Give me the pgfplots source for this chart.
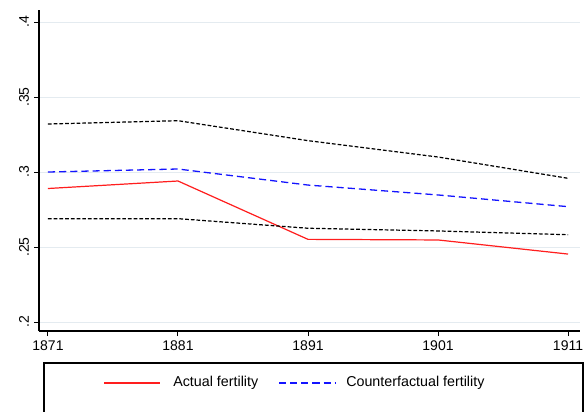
\documentclass[border=0pt]{standalone}
\usepackage{pgfplots}
\pgfplotsset{compat=1.18}
\usepackage{fontspec}
\setmainfont{Liberation Sans}
\definecolor{gridc}{RGB}{228,235,240}
\definecolor{cired}{RGB}{255,30,30}
\definecolor{cfblue}{RGB}{20,20,255}

\begin{document}
\begin{tikzpicture}
\begin{axis}[
    at={(0,0)}, anchor=south west,
    scale only axis,
    width=378.7pt, height=224.7pt,
    xmin=1870.31, xmax=1911.92,
    ymin=0.194, ymax=0.408,
    axis x line*=bottom, axis y line*=left,
    axis line style={line width=0.8pt, black},
    xtick={1871,1881,1891,1901,1911},
    xticklabels={1871,1881,1891,1901,1911},
    ytick={0.2,0.25,0.3,0.35,0.4},
    yticklabels={.2,.25,.3,.35,.4},
    yticklabel style={rotate=90, anchor=south, font=\fontsize{9.8}{11}\selectfont},
    xticklabel style={font=\fontsize{9.8}{11}\selectfont},
    tick align=outside,
    major tick length=3.5pt,
    tick style={line width=0.7pt, black},
    ymajorgrids,
    grid style={line width=0.7pt, gridc},
    clip=false,
]
\addplot[cired, line width=0.85pt] coordinates {
    (1871,0.289) (1881,0.294) (1891,0.2551) (1901,0.2547) (1911,0.2453)};
\addplot[cfblue, line width=0.9pt, dash pattern=on 5pt off 2.8pt] coordinates {
    (1871,0.300) (1881,0.302) (1891,0.2913) (1901,0.2847) (1911,0.2769)};
\addplot[black, line width=0.85pt, dash pattern=on 2.6pt off 1.4pt, forget plot] coordinates {
    (1871,0.332) (1881,0.3342) (1891,0.3209) (1901,0.310) (1911,0.2958)};
\addplot[black, line width=0.85pt, dash pattern=on 2.6pt off 1.4pt, forget plot] coordinates {
    (1871,0.2689) (1881,0.2689) (1891,0.2625) (1901,0.2607) (1911,0.2582)};
\end{axis}
% legend box (extends past the bottom edge of the picture)
\draw[line width=0.8pt] (3.5pt,-70pt) rectangle (380.8pt,-22.4pt);
\begin{scope}[font=\fontsize{10}{12}\selectfont]
\draw[cired, line width=0.9pt] (45.5pt,-36.4pt) -- (84.7pt,-36.4pt);
\node[anchor=west, inner sep=0pt] at (93.8pt,-36.4pt) {Actual fertility};
\draw[cfblue, line width=0.9pt, dash pattern=on 5pt off 2.8pt] (168pt,-36.4pt) -- (207.2pt,-36.4pt);
\node[anchor=west, inner sep=0pt] at (214.9pt,-36.4pt) {Counterfactual fertility};
\end{scope}
\pgfresetboundingbox
\path[use as bounding box] (-27.3pt,-56pt) rectangle (382.2pt,231.7pt);
\end{tikzpicture}
\end{document}
